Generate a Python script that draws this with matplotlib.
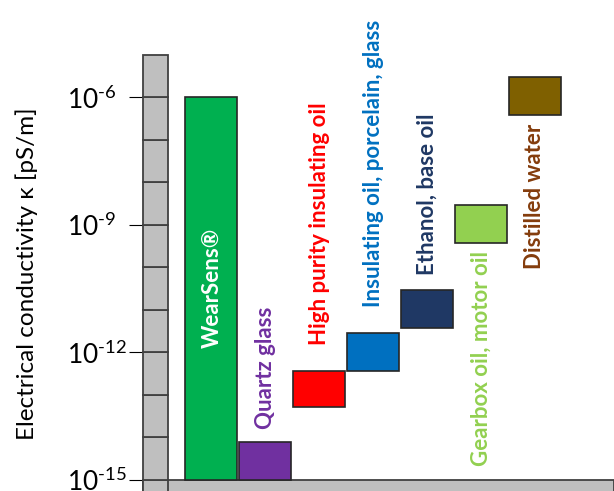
import numpy as np
import matplotlib.pyplot as plt
from matplotlib.ticker import FixedLocator, NullLocator, FuncFormatter

# conductivity ranges, log10 of kappa [pS/m]
materials = ['WearSens®', 'Quartz glass', 'High purity insulating oil',
             'Insulating oil, porcelain, glass', 'Ethanol, base oil',
             'Gearbox oil, motor oil', 'Distilled water']
log_low = [-15.0, -15.0, -13.28, -12.44, -11.42, -9.42, -6.41]
log_high = [-6.0, -14.1, -12.44, -11.54, -10.53, -8.53, -5.52]
bar_colors = ['#00B050', '#7030A0', '#FF0000', '#0070C0', '#1F3864', '#92D050', '#7F6000']
text_colors = ['white', '#7030A0', '#FF0000', '#0070C0', '#1F3864', '#92D050', '#843C0C']
tick_exps = [-15, -12, -9, -6]

plt.rcParams['font.family'] = ['Lato', 'DejaVu Sans']

fig = plt.figure(figsize=(6.14, 4.91), dpi=100)
ax = fig.add_axes([0, 0, 1, 1])
ax.set_yscale('log')
ax.set_ylim(10 ** -15.259, 10 ** -3.706)
ax.set_xlim(-3.924, 7.468)

# ruler-like y axis
ruler_x, ruler_w = -1.039, 0.464
edge = '#404040'
for k in range(-16, -5):
    lo = 10 ** -15.3 if k == -16 else 10.0 ** k
    ax.bar(ruler_x, 10.0 ** (k + 1) - lo, bottom=lo, width=ruler_w,
           color='#BFBFBF', edgecolor=edge, linewidth=1.3, zorder=2)
ax.axhspan(10 ** -15.3, 1e-15, xmin=143 / 614, xmax=1.0, facecolor='#BFBFBF',
           edgecolor=edge, linewidth=1.3, zorder=1)

# material bars
x = np.arange(len(materials))
lo = 10.0 ** np.array(log_low)
hi = 10.0 ** np.array(log_high)
ax.bar(x, hi - lo, bottom=lo, width=0.965, color=bar_colors,
       edgecolor='#262626', linewidth=1.2, zorder=3)

fs = 16
for i, name in enumerate(materials):
    if i == 0:
        ax.text(x[i] + 0.01, 10 ** -10.48, name, rotation=90, ha='center', va='center',
                color=text_colors[i], fontsize=fs, fontweight='bold', zorder=4)
        continue
    if i in (5, 6):
        ax.annotate(name, (x[i], lo[i]), xytext=(0, -6), textcoords='offset points',
                    rotation=90, ha='center', va='top', color=text_colors[i],
                    fontsize=fs, fontweight='bold')
    else:
        off = {1: 9, 2: 19, 3: 19, 4: 11}[i]
        ax.annotate(name, (x[i], hi[i]), xytext=(0, off), textcoords='offset points',
                    rotation=90, ha='center', va='bottom', color=text_colors[i],
                    fontsize=fs, fontweight='bold')

# ticks on the ruler's left edge
for s in ax.spines.values():
    s.set_visible(False)
ax.spines['left'].set_position(('data', -1.271))
ax.yaxis.set_major_locator(FixedLocator([10.0 ** e for e in tick_exps]))
ax.yaxis.set_minor_locator(NullLocator())
ax.yaxis.set_major_formatter(FuncFormatter(
    lambda v, p: '$\\mathregular{10^{\u2010%d}}$' % abs(round(np.log10(v)))))
ax.tick_params(axis='y', direction='out', length=10, width=0.8, color='black',
               labelsize=19, pad=44.6)
for lab in ax.get_yticklabels():
    lab.set_horizontalalignment('left')
ax.set_xticks([])

ax.text(27 / 614, 1 - 274 / 491, 'Electrical conductivity κ [pS/m]', transform=ax.transAxes,
        rotation=90, ha='center', va='center', fontsize=17.5)

fig.savefig('out.png', dpi=100)
